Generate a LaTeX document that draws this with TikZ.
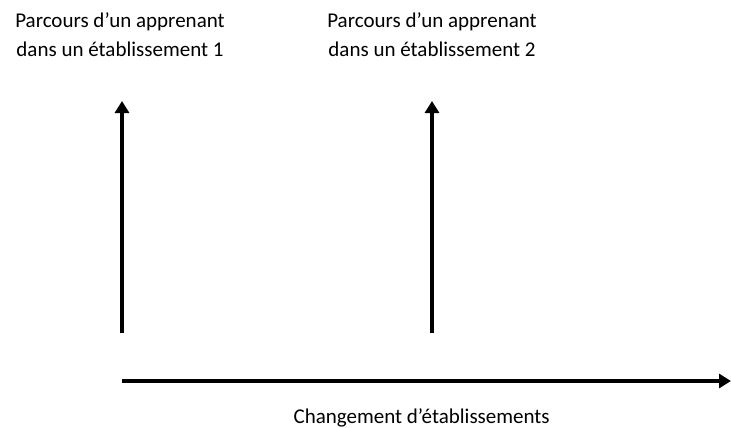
\documentclass[tikz,border=0pt]{standalone}
\usepackage{fontspec}
\setmainfont{Carlito}
\usetikzlibrary{arrows.meta,positioning}

\begin{document}
\begin{tikzpicture}
[
    x = 1pt, y = -1pt,
    lblstyle/.style = {align=center,
                       font=\fontsize{21}{29}\selectfont,
                       inner sep=0pt},
    arr/.style      = {line width=4.5pt,
                       -{Triangle[length=12pt,width=14pt]}}
]

\useasboundingbox (0,0) rectangle (731,428);

\node (p1) [lblstyle, anchor=base] at (120,57) {
Parcours d’un apprenant\\dans un établissement 1
};

\node (p2) [lblstyle, anchor=base] at (432,57) {
Parcours d’un apprenant\\dans un établissement 2
};

\node (ch) [lblstyle, anchor=base] at (424,423) {
Changement d’établissements
};

\coordinate (b1) at (122,333);
\coordinate (t1) at (122,101);
\coordinate (b2) at (432,333);
\coordinate (t2) at (432,101);
\coordinate (h0) at (122,381);
\coordinate (h1) at (731,381);

\draw[arr] (b1) -- (t1);
\draw[arr] (b2) -- (t2);
\draw[arr] (h0) -- (h1);

\end{tikzpicture}
\end{document}
